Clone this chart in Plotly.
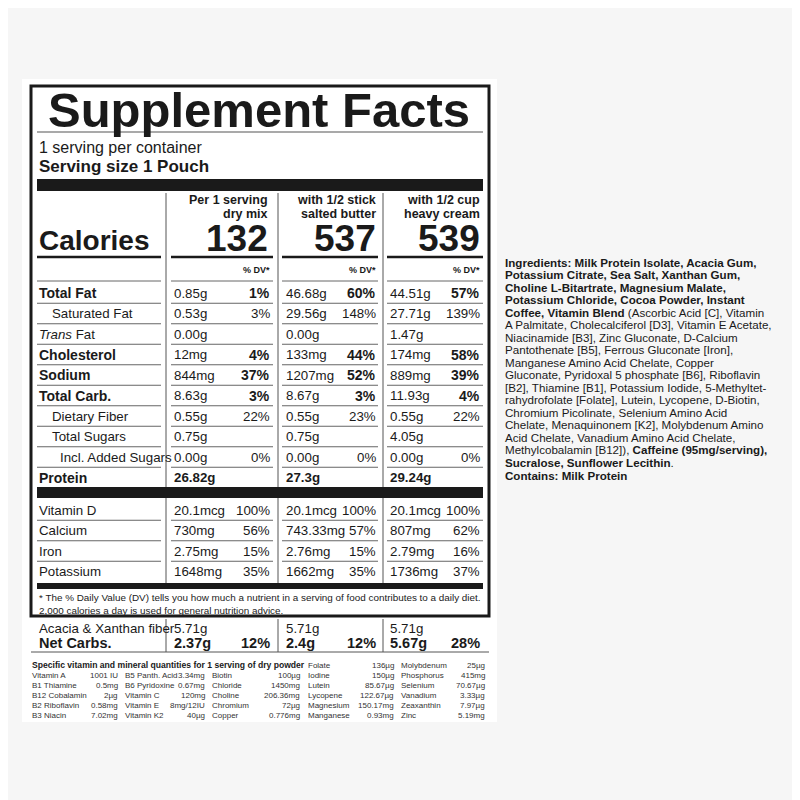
import plotly.graph_objects as go

# ---- data ----
col_headers = [("Per 1 serving", "dry mix"), ("with 1/2 stick", "salted butter"), ("with 1/2 cup", "heavy cream")]
calories = ["132", "537", "539"]

rows = ["Total Fat", "Saturated Fat", "Trans Fat", "Cholesterol", "Sodium", "Total Carb.",
        "Dietary Fiber", "Total Sugars", "Incl. Added Sugars", "Protein"]
row_bold = [True, False, False, True, True, True, False, False, False, True]
row_indent = [0, 13, 0, 0, 0, 0, 13, 13, 21, 0]
amounts = [
    ["0.85g", "46.68g", "44.51g"], ["0.53g", "29.56g", "27.71g"], ["0.00g", "0.00g", "1.47g"],
    ["12mg", "133mg", "174mg"], ["844mg", "1207mg", "889mg"], ["8.63g", "8.67g", "11.93g"],
    ["0.55g", "0.55g", "0.55g"], ["0.75g", "0.75g", "4.05g"], ["0.00g", "0.00g", "0.00g"],
    ["26.82g", "27.3g", "29.24g"],
]
pct_dv = [
    ["1%", "60%", "57%"], ["3%", "148%", "139%"], ["", "", ""], ["4%", "44%", "58%"],
    ["37%", "52%", "39%"], ["3%", "3%", "4%"], ["22%", "23%", "22%"], ["", "", ""],
    ["0%", "0%", "0%"], ["", "", ""],
]
minerals = ["Vitamin D", "Calcium", "Iron", "Potassium"]
mineral_amounts = [["20.1mcg"] * 3, ["730mg", "743.33mg", "807mg"],
                   ["2.75mg", "2.76mg", "2.79mg"], ["1648mg", "1662mg", "1736mg"]]
mineral_pct = [["100%"] * 3, ["56%", "57%", "62%"], ["15%", "15%", "16%"], ["35%", "35%", "37%"]]
fiber_amounts = ["5.71g", "5.71g", "5.71g"]
netcarb_amounts = ["2.37g", "2.4g", "5.67g"]
netcarb_pct = ["12%", "12%", "28%"]

micro_cols = [
    [("Vitamin A", "1001 IU"), ("B1 Thiamine", "0.5mg"), ("B12 Cobalamin", "2µg"),
     ("B2 Riboflavin", "0.58mg"), ("B3 Niacin", "7.02mg")],
    [("B5 Panth. Acid", "3.34mg"), ("B6 Pyridoxine", "0.67mg"), ("Vitamin C", "120mg"),
     ("Vitamin E", "8mg/12IU"), ("Vitamin K2", "40µg")],
    [("Biotin", "100µg"), ("Chloride", "1450mg"), ("Choline", "206.36mg"),
     ("Chromium", "72µg"), ("Copper", "0.776mg")],
    [("Folate", "136µg"), ("Iodine", "150µg"), ("Lutein", "85.67µg"), ("Lycopene", "122.67µg"),
     ("Magnesium", "150.17mg"), ("Manganese", "0.93mg")],
    [("Molybdenum", "25µg"), ("Phosphorus", "415mg"), ("Selenium", "70.67µg"), ("Vanadium", "3.33µg"),
     ("Zeaxanthin", "7.97µg"), ("Zinc", "5.19mg")],
]

ingredients = [
    "<b>Ingredients: Milk Protein Isolate, Acacia Gum,</b>",
    "<b>Potassium Citrate, Sea Salt, Xanthan Gum,</b>",
    "<b>Choline L-Bitartrate, Magnesium Malate,</b>",
    "<b>Potassium Chloride, Cocoa Powder, Instant</b>",
    "<b>Coffee, Vitamin Blend</b> (Ascorbic Acid [C], Vitamin",
    "A Palmitate, Cholecalciferol [D3], Vitamin E Acetate,",
    "Niacinamide [B3], Zinc Gluconate, D-Calcium",
    "Pantothenate [B5], Ferrous Gluconate [Iron],",
    "Manganese Amino Acid Chelate, Copper",
    "Gluconate, Pyridoxal 5 phosphate [B6], Riboflavin",
    "[B2], Thiamine [B1], Potassium Iodide, 5-Methyltet-",
    "rahydrofolate [Folate], Lutein, Lycopene, D-Biotin,",
    "Chromium Picolinate, Selenium Amino Acid",
    "Chelate, Menaquinonem [K2], Molybdenum Amino",
    "Acid Chelate, Vanadium Amino Acid Chelate,",
    "Methylcobalamin [B12]), <b>Caffeine (95mg/serving),</b>",
    "<b>Sucralose, Sunflower Lecithin</b>.",
    "<b>Contains: Milk Protein</b>",
]

# ---- layout helpers ----
FONT = "Liberation Sans, Arial, sans-serif"
shapes, annos = [], []


def text(x, y, s, size=12, anchor="left", bold=False, color="#1a1a1a"):
    if bold:
        s = "<b>" + s + "</b>"
    annos.append(dict(x=x, y=y, text=s, showarrow=False, xanchor=anchor, yanchor="middle",
                      font=dict(family=FONT, size=size, color=color)))


def rect(x0, y0, x1, y1, fill="#1a1a1a", line=None, width=0):
    shapes.append(dict(type="rect", x0=x0, y0=y0, x1=x1, y1=y1, fillcolor=fill,
                       line=dict(color=line or "rgba(0,0,0,0)", width=width)))


def hline(x0, x1, y, w=1, color="#555"):
    shapes.append(dict(type="line", x0=x0, x1=x1, y0=y, y1=y, line=dict(color=color, width=w)))


def vline(x, y0, y1, w=1, color="#555"):
    shapes.append(dict(type="line", x0=x, x1=x, y0=y0, y1=y1, line=dict(color=color, width=w)))


seg = [(37, 161), (171, 273), (282, 378), (387, 483)]
amt_x = [172, 284, 388]
pct_x = [272, 378, 482]
hdr_x = [270, 378, 482]
divs = [166, 278, 383]
REG, BOLD = 13.3, 14


def row_lines(y, w=1, color="#666"):
    for a, b in seg:
        hline(a, b, y, w, color)


# label panel and border
rect(22, 79, 497, 722, fill="white")
rect(31, 86, 489, 616, fill="rgba(0,0,0,0)", line="#1a1a1a", width=3)

text(259, 110, "Supplement Facts", size=49, anchor="center", bold=True)
hline(37, 483, 132, 1.2)
text(37, 147, "1 serving per container", size=16)
text(37, 166, "Serving size 1 Pouch", size=17, bold=True)
rect(37, 179, 483, 191)

for x in divs:
    vline(x, 193, 589, 1)
    vline(x, 619, 652, 1)

for i, (a, b) in enumerate(col_headers):
    text(hdr_x[i], 200, a, size=12.5, anchor="right", bold=True)
    text(hdr_x[i], 214, b, size=12.5, anchor="right", bold=True)
    text(hdr_x[i], 238, calories[i], size=37, anchor="right", bold=True)
    text(pct_x[i], 270, "% DV*", size=9, anchor="right", bold=True)
text(37, 240, "Calories", size=28, bold=True)
row_lines(257, 2.5, "#1a1a1a")
row_lines(281, 1)

y0, dy = 293, 20.5
for r, name in enumerate(rows):
    y = y0 + r * dy
    label = "<i>Trans</i> Fat" if name == "Trans Fat" else name
    text(37 + row_indent[r], y, label, size=BOLD if row_bold[r] else REG, bold=row_bold[r])
    for c in range(3):
        text(amt_x[c], y, amounts[r][c], size=REG, bold=(name == "Protein"))
        if pct_dv[r][c]:
            text(pct_x[c], y, pct_dv[r][c], size=BOLD if row_bold[r] else REG,
                 anchor="right", bold=row_bold[r])
    if r < len(rows) - 1:
        row_lines(y + dy / 2)
rect(37, 487, 483, 498)

y0 = 510
for r, name in enumerate(minerals):
    y = y0 + r * dy
    text(37, y, name, size=REG)
    for c in range(3):
        text(amt_x[c], y, mineral_amounts[r][c], size=REG)
        text(pct_x[c], y, mineral_pct[r][c], size=REG, anchor="right")
    if r < len(minerals) - 1:
        row_lines(y + dy / 2)
rect(37, 583, 483, 589)

text(37, 597, "* The % Daily Value (DV) tells you how much a nutrient in a serving of food contributes to a daily diet.", size=9.9)
text(37, 610, "2,000 calories a day is used for general nutrition advice.", size=9.9)

text(37, 628, "Acacia &amp; Xanthan fiber", size=REG)
text(37, 643, "Net Carbs.", size=14.5, bold=True)
for c in range(3):
    text(amt_x[c], 628, fiber_amounts[c], size=REG)
    text(amt_x[c], 643, netcarb_amounts[c], size=14.5, bold=True)
    text(pct_x[c], 643, netcarb_pct[c], size=14.5, anchor="right", bold=True)
hline(31, 489, 652, 1)

# micronutrient grid
text(30, 665, "Specific vitamin and mineral quantities for 1 serving of dry powder", size=8.6, bold=True)
lab_x = [30, 123, 210, 306, 399]
val_x = [120, 207, 302, 396, 487]
for c, col in enumerate(micro_cols):
    start = 1 if c < 3 else 0
    for k, (lab, val) in enumerate(col):
        y = 665 + (k + start) * 10
        text(lab_x[c], y, lab, size=8, color="#333")
        text(val_x[c], y, val, size=8, anchor="right", color="#333")

# ingredients
for i, line in enumerate(ingredients):
    text(503, 262 + i * 12.53, line, size=11.6)

fig = go.Figure()
# page body has an 8px margin, so shift the axis ranges to keep pixel coordinates
fig.update_layout(
    width=800, height=800,
    margin=dict(l=0, r=0, t=0, b=0),
    paper_bgcolor="#f6f6f6", plot_bgcolor="#f6f6f6",
    xaxis=dict(range=[8, 808], visible=False, fixedrange=True),
    yaxis=dict(range=[808, 8], visible=False, fixedrange=True),
    shapes=shapes, annotations=annos, showlegend=False,
)
fig.write_html("out.html")
